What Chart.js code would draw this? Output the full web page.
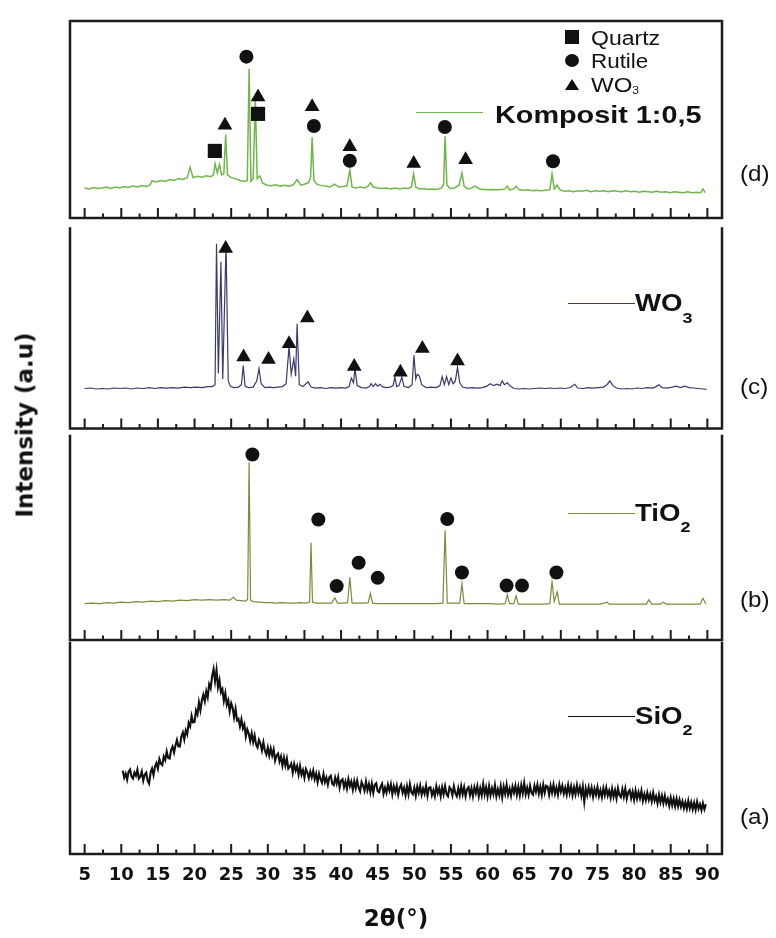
<!DOCTYPE html>
<html><head><meta charset="utf-8">
<script src="https://cdn.jsdelivr.net/npm/chart.js@4.4.1/dist/chart.umd.min.js"></script>
<style>
html,body{margin:0;padding:0;background:#fff;}
#fig{position:relative;width:776px;height:938px;overflow:hidden;background:#fff;}
.panel{position:absolute;left:0;width:776px;}
.panel canvas{display:block;}
.txt{position:absolute;white-space:nowrap;font-family:"Liberation Sans",Arial,sans-serif;color:#111;line-height:1;transform-origin:0 50%;z-index:5;}
.b{font-weight:bold;}
.lead{position:absolute;height:0;z-index:5;}
.mk{position:absolute;z-index:5;}
</style></head>
<body><div id="fig"></div>
<script>
// ---------------- data (2θ in degrees, intensity in a.u.) ----------------
const xTickValues = [5,10,15,20,25,30,35,40,45,50,55,60,65,70,75,80,85,90];
const xTickLabels = ['5','10','15','20','25','30','35','40','45','50','55','60','65','70','75','80','85','90'];
const xMinorTicks = [7.5,12.5,17.5,22.5,27.5,32.5,37.5,42.5,47.5,52.5,57.5,62.5,67.5,72.5,77.5,82.5,87.5];
const seriesNames = ['Komposit 1:0,5','WO3','TiO2','SiO2'];

// (d) Komposit 1:0,5
const komposit = [[5.0,32],[5.6,31],[6.2,32.5],[6.8,31.5],[7.4,32],[8.0,33],[8.6,31.5],[9.2,33],[9.8,32],[10.4,33.5],[11.0,32.5],[11.6,34],[12.2,33],[12.8,34.5],[13.4,33.5],[13.9,35],[14.2,39.5],[14.8,38.5],[15.4,40],[16.0,39],[16.6,41],[17.2,40],[17.8,42],[18.4,41],[19.0,43],[19.4,54],[19.8,43],[20.4,44.5],[21.0,43.5],[21.6,45],[22.2,44],[22.6,46],[22.8,58],[23.1,48],[23.4,57],[23.7,46],[24.0,47],[24.25,89],[24.5,46],[25.0,43],[25.6,42],[26.2,40],[26.8,39],[27.2,40],[27.45,159],[27.7,39],[28.0,42],[28.3,128],[28.55,42],[28.9,45],[29.3,37],[29.9,35],[30.5,34.5],[31.1,35.5],[31.7,34],[32.3,35],[32.9,34],[33.5,35.5],[34.0,41],[34.5,35],[35.0,36],[35.6,38],[35.85,44],[36.05,86],[36.3,40],[36.7,36],[37.3,34.5],[37.9,34],[38.5,33],[39.1,36],[39.7,33],[40.3,33.5],[40.8,34],[41.2,51],[41.5,33],[42.0,32],[42.6,33],[43.2,32],[43.7,34],[44.0,37.5],[44.4,33],[45.0,32],[45.6,31.5],[46.2,32],[46.8,31],[47.4,32],[48.0,31],[48.6,32],[49.2,31.5],[49.6,33],[49.9,47],[50.2,33],[50.7,31],[51.3,31.5],[51.9,30.5],[52.5,31],[53.1,30.5],[53.7,32],[54.0,36],[54.2,87],[54.45,35],[54.9,31.5],[55.5,32],[56.1,35],[56.5,48],[56.8,34],[57.3,31],[57.8,32],[58.3,34],[58.9,31],[59.5,30.5],[60.1,30],[60.7,30.5],[61.3,30],[61.9,30.5],[62.4,31],[62.7,34],[63.0,30],[63.6,31],[63.9,34],[64.3,30],[64.9,29.5],[65.5,30],[66.1,29],[66.7,29.5],[67.3,29],[67.9,29.5],[68.5,30],[68.8,47],[69.1,31],[69.5,35],[69.9,30],[70.5,28.5],[71.1,29],[71.7,28],[72.3,29],[72.9,28.5],[73.5,29.5],[74.1,28],[74.7,29],[75.3,28.5],[75.9,29],[76.5,28],[77.1,29],[77.7,28.5],[78.3,28],[78.9,29],[79.5,28],[80.1,28.5],[80.7,27.5],[81.3,28.5],[81.9,28],[82.5,27.5],[83.1,28.5],[83.7,27.5],[84.3,28],[84.9,27],[85.5,28],[86.1,27.5],[86.7,27],[87.3,28],[87.9,27],[88.5,27.5],[89.1,27],[89.4,31],[89.7,27]];

// (c) WO3
const wo3 = [[5.0,42],[5.8,42.5],[6.6,41.5],[7.4,42],[8.2,41.5],[9.0,42.5],[9.8,42],[10.6,42.5],[11.4,41.5],[12.2,42.5],[13.0,42],[13.8,43],[14.6,42],[15.4,43],[16.2,42.5],[17.0,43],[17.8,42.5],[18.6,43.5],[19.4,43],[20.2,43.5],[21.0,43],[21.8,44],[22.4,44],[22.8,46],[23.0,194],[23.25,58],[23.6,175],[23.85,52],[24.3,194],[24.6,50],[24.9,44],[25.4,43],[26.0,43.5],[26.4,46],[26.65,66],[26.9,44],[27.4,43],[28.0,43.5],[28.5,50],[28.8,63],[29.1,47],[29.6,43],[30.2,43.5],[30.8,43],[31.4,43.5],[32.0,44],[32.5,47],[32.9,86],[33.2,57],[33.55,73],[33.8,55],[34.0,110],[34.3,46],[34.8,44],[35.5,49],[35.9,43.5],[36.5,42.5],[37.2,43],[37.9,42],[38.6,43],[39.3,42.5],[40.0,43],[40.6,42.5],[41.1,44],[41.4,53],[41.7,48],[41.9,63],[42.2,45],[42.8,43],[43.4,42.5],[43.9,44],[44.1,47],[44.4,44],[44.7,47],[45.0,44.5],[45.3,46.5],[45.6,44],[46.1,43],[46.7,43.5],[47.1,45],[47.35,54],[47.6,44],[47.9,45],[48.3,54],[48.6,44],[49.2,43],[49.7,46],[49.95,77],[50.2,52],[50.4,57],[50.7,55],[51.0,46],[51.6,43],[52.3,43.5],[53.0,43],[53.5,45],[53.8,54.5],[54.1,46],[54.4,54.5],[54.7,46],[55.0,53],[55.3,47],[55.6,50],[55.9,64.5],[56.2,48],[56.6,43.5],[57.2,42.5],[57.9,43],[58.6,42.5],[59.3,43],[59.9,44.5],[60.4,47],[60.8,45],[61.3,46.5],[61.7,45],[62.0,50],[62.3,46],[62.7,48],[63.1,44.5],[63.6,42],[64.3,41.5],[65.0,42],[65.7,41.5],[66.4,42],[67.1,42.5],[67.8,42],[68.5,42.5],[69.2,42],[69.9,42.5],[70.6,42],[71.3,43],[71.9,46.5],[72.3,42.5],[73.0,42],[73.7,43],[74.4,42.5],[75.1,43],[75.8,43.5],[76.3,46],[76.7,50],[77.1,45],[77.6,42.5],[78.3,41.5],[79.0,42],[79.7,41.5],[80.4,42.5],[81.1,42],[81.8,43],[82.5,42.5],[83.0,44],[83.4,46],[83.8,43],[84.5,42.5],[85.2,43.5],[85.8,44.5],[86.3,43],[86.9,44.5],[87.5,43],[88.1,42.5],[88.8,42],[89.5,41.5],[89.9,41]];

// (b) TiO2
const tio2 = [[5.0,37.5],[6.0,38],[7.0,37.5],[8.0,38.5],[9.0,38],[10.0,39],[11.0,38.5],[12.0,39.5],[13.0,39],[14.0,40],[15.0,39.5],[16.0,40.5],[17.0,40],[18.0,41],[19.0,40.5],[20.0,41.5],[21.0,41],[22.0,41.5],[23.0,41],[24.0,41.5],[24.8,41],[25.3,44],[25.7,41],[26.3,40.5],[27.0,40],[27.25,42],[27.45,183],[27.65,41],[28.0,39.5],[28.8,39],[29.6,38.5],[30.4,38.5],[31.2,38],[32.0,38.5],[32.8,38],[33.6,38],[34.4,38.5],[35.2,38],[35.7,39],[35.9,100],[36.1,39],[36.6,38],[37.3,38],[38.0,38],[38.7,38],[39.15,43.5],[39.5,38],[40.2,38],[40.9,38.5],[41.2,64.5],[41.5,38],[42.3,38],[43.1,38],[43.7,38.5],[44.0,48],[44.3,38],[45.0,37.5],[46.0,37.5],[47.0,37.5],[48.0,37.5],[49.0,37.5],[50.0,37.5],[51.0,37.5],[52.0,37.5],[53.0,37.5],[53.9,38],[54.2,113],[54.5,38],[55.2,38],[56.2,38],[56.5,58],[56.8,37.5],[57.8,37.5],[59.0,37.5],[60.2,37.5],[61.4,37],[62.4,37.5],[62.7,46.5],[63.0,37.5],[63.6,37.5],[63.9,45.5],[64.2,37],[65.2,37],[66.4,37],[67.6,37],[68.5,37.5],[68.8,60],[69.1,39.5],[69.5,49.5],[69.8,37],[71.0,37],[72.4,37],[73.8,37],[75.4,37],[76.3,39],[76.6,37],[78.0,37],[79.4,37],[80.8,37],[81.7,37],[82.0,41.5],[82.4,37],[83.6,37],[84.0,39],[84.4,37],[85.6,37],[86.8,37],[88.0,37],[89.0,37],[89.4,43],[89.8,37]];

// (a) SiO2 (amorphous, noisy)
const sio2 = [
[10.2,83],[10.4,76],[10.6,80],[10.8,74],[11.0,82],[11.2,84],[11.4,77],[11.6,75],[11.8,81],[12.0,78],
[12.2,84],[12.4,75],[12.6,77],[12.8,82],[13.0,73],[13.2,79],[13.4,81],[13.6,73],[13.8,70],[14.0,81],
[14.2,85],[14.4,78.5],[14.6,87],[14.8,90.5],[15.0,85],[15.2,94.5],[15.4,90],[15.6,88.5],[15.8,97],[16.0,93.5],
[16.2,102],[16.4,95.5],[16.6,95],[16.8,103.5],[17.0,107],[17.2,101],[17.4,108],[17.6,113.5],[17.8,107],[18.0,107],
[18.2,117],[18.4,121],[18.6,114],[18.8,123],[19.0,119],[19.2,130.5],[19.4,127],[19.6,137.5],[19.8,131],[20.0,131.5],
[20.2,143],[20.4,139],[20.6,151],[20.8,143],[21.0,153],[21.2,158.5],[21.4,152],[21.6,162],[21.8,156],[22.0,169],
[22.2,165],[22.4,177],[22.6,184],[22.8,172],[23.0,183],[23.2,166],[23.4,173],[23.6,161],[23.8,164],[24.0,152.5],
[24.2,160],[24.4,148.5],[24.6,153],[24.8,142],[25.0,150],[25.2,145.5],[25.4,136],[25.6,144.5],[25.8,133],[26.0,134.5],
[26.2,127],[26.4,134],[26.6,125],[26.8,129],[27.0,117],[27.2,124],[27.4,120],[27.6,112.5],[27.8,120],[28.0,111.5],
[28.2,118],[28.4,109],[28.6,106],[28.8,113.5],[29.0,110],[29.2,103],[29.4,111],[29.6,103],[29.8,99],[30.0,106],
[30.2,98],[30.4,105],[30.6,98],[30.8,104],[31.0,93],[31.2,98],[31.4,100],[31.6,92],[31.8,97],[32.0,88],
[32.2,96],[32.4,88],[32.6,95],[32.8,85],[33.0,87],[33.2,90],[33.4,81],[33.6,89.5],[33.8,83],[34.0,87.5],
[34.2,79],[34.4,87.5],[34.6,79],[34.8,83.5],[35.0,76],[35.2,84.5],[35.4,81],[35.6,75.5],[35.8,82],[36.0,76.5],
[36.2,83],[36.4,74.5],[36.6,80],[36.8,71.5],[37.0,80],[37.2,74.5],[37.4,71],[37.6,79.5],[37.8,71.5],[38.0,76],
[38.2,69],[38.4,76.5],[38.6,78],[38.8,70],[39.0,68.5],[39.2,76],[39.4,70],[39.6,76.5],[39.8,66],[40.0,73],
[40.2,74.5],[40.4,66.5],[40.6,72],[40.8,65],[41.0,74.5],[41.2,67.5],[41.4,72],[41.6,64],[41.8,72.5],[42.0,65.5],
[42.2,73],[42.4,66],[42.6,62.5],[42.8,71.5],[43.0,68],[43.2,63],[43.4,72],[43.6,63.5],[43.8,69.5],[44.0,61.5],
[44.2,70],[44.4,61],[44.6,69],[44.8,70.5],[45.0,62.5],[45.2,61.5],[45.4,67],[45.6,70],[45.8,60],[46.0,66],
[46.2,61],[46.4,69],[46.6,63],[46.8,69.5],[47.0,59.5],[47.2,67.5],[47.4,61.5],[47.6,68],[47.8,59],[48.0,66],
[48.2,69],[48.4,61],[48.6,66],[48.8,58.5],[49.0,67.5],[49.2,59.5],[49.4,69.5],[49.6,61.5],[49.8,59.5],[50.0,66],
[50.2,58],[50.4,67],[50.6,61],[50.8,68],[51.0,59],[51.2,65],[51.4,60],[51.6,68],[51.8,58],[52.0,66],
[52.2,66.5],[52.4,58.5],[52.6,63.5],[52.8,57.5],[53.0,67.5],[53.2,60.5],[53.4,65.5],[53.6,57.5],[53.8,66.5],[54.0,59.5],
[54.2,67.5],[54.4,59.5],[54.6,57.5],[54.8,66.5],[55.0,64.5],[55.2,58.5],[55.4,67.5],[55.6,60.5],[55.8,57.5],[56.0,65.5],
[56.2,58.5],[56.4,67.5],[56.6,59.5],[56.8,66.5],[57.0,57.5],[57.2,64.5],[57.4,66.5],[57.6,58.5],[57.8,65.5],[58.0,57.5],
[58.2,66.5],[58.4,60.5],[58.6,67.5],[58.8,57.5],[59.0,65.5],[59.2,58.5],[59.4,69.5],[59.6,59.5],[59.8,66.5],[60.0,57.5],
[60.2,67.5],[60.4,58.5],[60.6,65.5],[60.8,59.5],[61.0,68.5],[61.2,57.5],[61.4,64.5],[61.6,58.5],[61.8,67.5],[62.0,56.5],
[62.2,67],[62.4,60],[62.6,69],[62.8,59],[63.0,65],[63.2,58],[63.4,67],[63.6,61],[63.8,68],[64.0,59],
[64.2,67],[64.4,58.5],[64.6,68.5],[64.8,60.5],[65.0,70.5],[65.2,59.5],[65.4,66],[65.6,59],[65.8,68],[66.0,61],
[66.2,59],[66.4,68],[66.6,62],[66.8,69],[67.0,60],[67.2,67],[67.4,59],[67.6,69],[67.8,61],[68.0,68],
[68.2,67],[68.4,59],[68.6,68],[68.8,61],[69.0,69],[69.2,60],[69.4,66],[69.6,59],[69.8,69],[70.0,62],
[70.2,68],[70.4,60],[70.6,66],[70.8,59],[71.0,68.5],[71.2,60.5],[71.4,67.5],[71.6,58.5],[71.8,66.5],[72.0,59.5],
[72.2,68.5],[72.4,60.5],[72.6,66.5],[72.8,58],[73.0,67],[73.2,52],[73.4,65],[73.6,58.5],[73.8,66.5],[74.0,59.5],
[74.2,66],[74.4,57],[74.6,65],[74.8,59],[75.0,66.5],[75.2,57.5],[75.4,63.5],[75.6,56.5],[75.8,65.5],[76.0,58.5],
[76.2,66],[76.4,58],[76.6,63],[76.8,56],[77.0,65],[77.2,57],[77.4,63.5],[77.6,55.5],[77.8,65.5],[78.0,58.5],
[78.2,56.5],[78.4,64.5],[78.6,57],[78.8,65],[79.0,55],[79.2,61.5],[79.4,63.5],[79.6,55.5],[79.8,62],[80.0,54],
[80.2,63],[80.4,55],[80.6,61.5],[80.8,55.5],[81.0,63],[81.2,53],[81.4,59.5],[81.6,53.5],[81.8,61],[82.0,54],
[82.2,59.5],[82.4,52.5],[82.6,61],[82.8,53],[83.0,57.5],[83.2,50.5],[83.4,59],[83.6,51.5],[83.8,58],[84.0,50.5],
[84.2,58],[84.4,50.5],[84.6,55],[84.8,48],[85.0,56],[85.2,48.5],[85.4,55],[85.6,47.5],[85.8,55],[86.0,47.5],
[86.2,54],[86.4,47],[86.6,52.5],[86.8,45.5],[87.0,51.5],[87.2,45],[87.4,53],[87.6,45.5],[87.8,51.5],[88.0,44.5],
[88.2,51],[88.4,44],[88.6,52],[88.8,45],[89.0,49.5],[89.2,43.5],[89.4,50.5],[89.6,44.5],[89.8,49.5]];

// phase markers [2θ, marker height in a.u.]
const quartzD = [[22.77,71.5],[28.67,111]];
const rutileD = [[27.08,172],[36.29,98],[41.19,61],[54.17,97],[68.93,60.5]];
const wo3D    = [[24.15,99],[28.67,129],[36.05,118.5],[41.19,76],[49.92,58],[57.0,62]];
const wo3C    = [[24.25,189],[26.7,75],[30.1,72.5],[32.9,89],[35.4,116],[41.8,65],[48.1,59],[51.1,84],[55.9,71]];
const rutileB = [[27.9,191],[36.9,124],[39.4,55.5],[42.4,79.5],[45.0,64],[54.5,124.5],[56.5,69.5],[62.6,56],[64.7,56],[69.4,69.5]];

// ---------------- layout / style ----------------
const X_MIN = 3, X_MAX = 92, Y_MAX = 210;
const FRAME = '#1c1c1c';
const panels = [
  {top:15,  bottom:224, series:komposit, color:'#72b64a', lw:1.5, first:true,
   marks:[{d:quartzD,s:'rect',r:10},{d:rutileD,s:'circle',r:7},{d:wo3D,s:'triangle',r:8.5}]},
  {top:224, bottom:433, series:wo3, color:'#3a3a6c', lw:1.2,
   marks:[{d:wo3C,s:'triangle',r:8.5}]},
  {top:433, bottom:643, series:tio2, color:'#7f8a3a', lw:1.2,
   marks:[{d:rutileB,s:'circle',r:7}]},
  {top:643, bottom:854, series:sio2, color:'#111111', lw:2.1, last:true, marks:[]}
];

const framePlugin = {
  id:'frameTicks',
  afterDraw(chart, args, opts){
    const {ctx, chartArea:a} = chart;
    const xs = chart.scales.x;
    ctx.save();
    ctx.strokeStyle = FRAME;
    ctx.lineCap = 'square';
    ctx.lineWidth = 2.5;
    ctx.beginPath();
    ctx.moveTo(a.left, a.top); ctx.lineTo(a.left, a.bottom);
    ctx.moveTo(a.right, a.top); ctx.lineTo(a.right, a.bottom);
    ctx.moveTo(a.left, a.bottom); ctx.lineTo(a.right, a.bottom);
    if (opts.first){ ctx.moveTo(a.left, a.top); ctx.lineTo(a.right, a.top); }
    ctx.stroke();
    ctx.lineWidth = 2;
    ctx.lineCap = 'butt';
    ctx.beginPath();
    xTickValues.forEach(v => { const px = xs.getPixelForValue(v); ctx.moveTo(px, a.bottom); ctx.lineTo(px, a.bottom - 10); });
    xMinorTicks.forEach(v => { const px = xs.getPixelForValue(v); ctx.moveTo(px, a.bottom); ctx.lineTo(px, a.bottom - 4.5); });
    ctx.stroke();
    ctx.restore();
  }
};

const fig = document.getElementById('fig');
const PAD = 4, FIG_H = 938, AXIS_H = FIG_H - 854;

panels.forEach(p => {
  const top = p.top - PAD;
  const h = p.last ? (FIG_H - top) : (p.bottom - p.top + 2*PAD);
  const wrap = document.createElement('div');
  wrap.className = 'panel';
  wrap.style.top = top + 'px';
  wrap.style.height = h + 'px';
  const cv = document.createElement('canvas');
  cv.width = 776; cv.height = h;
  wrap.appendChild(cv);
  fig.appendChild(wrap);

  const datasets = [{
    data: p.series.map(([x,y]) => ({x, y})),
    borderColor: p.color, borderWidth: p.lw, pointRadius: 0, tension: 0, fill: false, order: 2,
    borderJoinStyle: 'miter'
  }];
  p.marks.forEach(m => datasets.push({
    data: m.d.map(([x,y]) => ({x, y})),
    showLine: false, pointStyle: m.s, pointRadius: m.r, pointHoverRadius: m.r,
    backgroundColor: '#111', borderColor: '#111', borderWidth: 0, order: 1
  }));

  const xScale = {
    type: 'linear', min: X_MIN, max: X_MAX,
    display: !!p.last,
    afterBuildTicks: s => { s.ticks = xTickValues.map(v => ({value: v})); },
    grid: { display: false, drawTicks: false },
    border: { display: false },
    ticks: {
      autoSkip: false, maxRotation: 0, padding: 11, color: '#111',
      font: { family: 'DejaVu Sans', weight: 'bold', size: 18 },
      callback: v => { const i = xTickValues.indexOf(v); return i >= 0 ? xTickLabels[i] : ''; }
    },
    title: {
      display: true, text: '2θ(°)', color: '#111',
      font: { family: 'DejaVu Sans', weight: 'bold', size: 23 },
      padding: { top: 0, bottom: 4 }
    }
  };
  if (p.last) xScale.afterFit = s => { s.height = AXIS_H; };

  new Chart(cv, {
    type: 'line',
    data: { datasets },
    options: {
      responsive: false, animation: false, events: [],
      layout: { padding: { left: 70, right: 54, top: PAD, bottom: p.last ? 0 : PAD } },
      plugins: { legend: {display:false}, tooltip: {enabled:false}, frameTicks: {first: !!p.first} },
      scales: {
        x: xScale,
        y: { type: 'linear', min: 0, max: Y_MAX, display: false }
      }
    },
    plugins: [framePlugin]
  });
});

// ---------------- text annotations ----------------
function addText(html, left, baseline, size, bold, sx, extra){
  const d = document.createElement('div');
  d.className = 'txt' + (bold ? ' b' : '');
  d.style.left = left + 'px';
  d.style.top = (baseline - 0.8465*size) + 'px';
  d.style.fontSize = size + 'px';
  d.style.transform = 'scaleX(' + sx + ')';
  if (extra) Object.assign(d.style, extra);
  d.innerHTML = html;
  fig.appendChild(d);
}
function addLead(x1, x2, y, color){
  const d = document.createElement('div');
  d.className = 'lead';
  d.style.left = x1 + 'px'; d.style.width = (x2 - x1) + 'px';
  d.style.top = (y - 0.6) + 'px';
  d.style.borderTop = '1.3px solid ' + color;
  fig.appendChild(d);
}
function addMarker(kind, cx, cy){
  const d = document.createElement('div');
  d.className = 'mk';
  if (kind === 'rect'){ Object.assign(d.style, {left:(cx-7)+'px', top:(cy-7)+'px', width:'14px', height:'14px', background:'#111'}); }
  else if (kind === 'circle'){ Object.assign(d.style, {left:(cx-7)+'px', top:(cy-6.5)+'px', width:'14px', height:'13px', borderRadius:'50%', background:'#111'}); }
  else { Object.assign(d.style, {left:(cx-7)+'px', top:(cy-5.5)+'px', width:'0', height:'0', borderLeft:'7px solid transparent', borderRight:'7px solid transparent', borderBottom:'11px solid #111'}); }
  fig.appendChild(d);
}

// legend (panel d)
addMarker('rect', 572, 37);   addText('Quartz', 591, 45, 20, false, 1.15);
addMarker('circle', 572, 60); addText('Rutile', 591, 68, 20, false, 1.12);
addMarker('tri', 572, 84);    addText('WO<span style="font-size:10px;position:relative;top:2px">3</span>', 591, 92, 20, false, 1.2);

// series labels
addLead(416, 483, 112.7, panels[0].color);
addText(seriesNames[0], 495, 123, 24, true, 1.2);
addLead(568, 635, 303.3, panels[1].color);
addText('WO<span style="font-size:15px;position:relative;top:12px">3</span>', 635, 311.7, 23, true, 1.2);
addLead(568, 635, 513.3, panels[2].color);
addText('TiO<span style="font-size:15px;position:relative;top:11px">2</span>', 635, 521.7, 23, true, 1.2);
addLead(568, 635, 716.7, panels[3].color);
addText('SiO<span style="font-size:15px;position:relative;top:11px">2</span>', 635, 724, 23, true, 1.2);

// panel letters
addText('(d)', 740, 182, 22, false, 1.1);
addText('(c)', 740, 395, 22, false, 1.1);
addText('(b)', 740, 608, 22, false, 1.1);
addText('(a)', 740, 825, 22, false, 1.1);

// y-axis title
const yt = document.createElement('div');
yt.textContent = 'Intensity (a.u)';
Object.assign(yt.style, {position:'absolute', left:'25px', top:'425px', whiteSpace:'nowrap',
  fontFamily:'DejaVu Sans', fontWeight:'bold', fontSize:'23px', color:'#111', lineHeight:'1',
  transform:'translate(-50%,-50%) rotate(-90deg)', zIndex:5});
fig.appendChild(yt);
</script>
</body></html>
